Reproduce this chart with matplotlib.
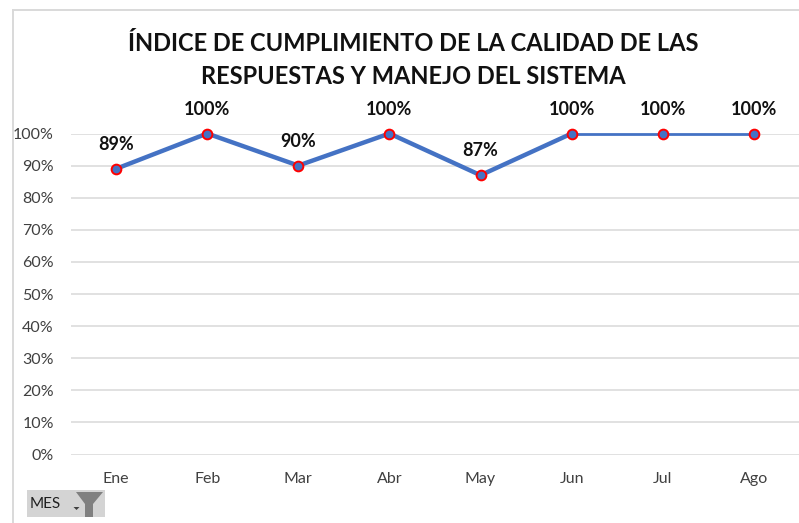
import matplotlib.pyplot as plt
from matplotlib.patches import Polygon, Rectangle

plt.rcParams['font.family'] = ['Lato', 'DejaVu Sans']

W, H = 799, 523

meses = ['Ene', 'Feb', 'Mar', 'Abr', 'May', 'Jun', 'Jul', 'Ago']
indice = [89, 100, 90, 100, 87, 100, 100, 100]
etiquetas = ['89%', '100%', '90%', '100%', '87%', '100%', '100%', '100%']
ticks_y = [0, 10, 20, 30, 40, 50, 60, 70, 80, 90, 100]
titulo = 'ÍNDICE DE CUMPLIMIENTO DE LA CALIDAD DE LAS\nRESPUESTAS Y MANEJO DEL SISTEMA'

fig = plt.figure(figsize=(W / 100, H / 100), dpi=100)
ax = fig.add_axes([70.5 / W, 1 - 454.5 / H, (799.5 - 70.5) / W, (454.5 - 133.5) / H])

ax.set_xlim(-0.5, 7.5)
ax.set_ylim(0, 100)
ax.set_yticks(ticks_y)
ax.set_yticklabels([f'{v}%' for v in ticks_y], fontsize=11.5, color='#404040')
ax.set_xticks(range(len(meses)))
ax.set_xticklabels(meses, fontsize=11.5, color='#404040')
ax.tick_params(length=0)
ax.tick_params(axis='y', pad=12)
ax.tick_params(axis='x', pad=12.5)
ax.grid(axis='y', color='#d9d9d9', lw=1.1)
ax.set_axisbelow(True)
for s in ax.spines.values():
    s.set_visible(False)

# thick up to Jun, thin afterwards
ax.plot(meses[:6], indice[:6], color='#4472c4', lw=3.2, clip_on=False, solid_capstyle='round')
ax.plot(meses[5:], indice[5:], color='#4472c4', lw=2, clip_on=False)
ax.plot(meses, indice, ls='none', marker='o', ms=7, mfc='#4472c4', mec='#ff0000', mew=1.4,
        clip_on=False, zorder=5)

for i, (v, t) in enumerate(zip(indice, etiquetas)):
    ax.annotate(t, (i, v), xytext=(0, 11.5), textcoords='offset points', ha='center', va='bottom',
                fontsize=13, fontweight='bold', color='#111111', annotation_clip=False)

fig.text(413.5 / W, 1 - 60 / H, titulo, ha='center', va='center', fontsize=17, fontweight='bold',
         color='#111111', linespacing=1.55)

# chart border
fig.add_artist(plt.Line2D([12.5 / W, 12.5 / W], [0, 1 - 10 / H], color='#d9d9d9', lw=1.4))
fig.add_artist(plt.Line2D([12.5 / W, 1], [1 - 10 / H, 1 - 10 / H], color='#d9d9d9', lw=1.4))

# filter button
fig.add_artist(Rectangle((27 / W, 1 - 517 / H), 78 / W, 27 / H, transform=fig.transFigure,
                         fc='#d4d4d4', ec='none'))
fig.text(30 / W, 1 - 504 / H, 'MES', ha='left', va='center', fontsize=11, color='#202020')
fig.add_artist(Polygon([(73.5 / W, 1 - 507 / H), (79.5 / W, 1 - 507 / H), (76.5 / W, 1 - 510 / H)],
                       transform=fig.transFigure, fc='#404040', ec='none'))
fig.add_artist(Polygon([(76 / W, 1 - 492 / H), (103 / W, 1 - 492 / H), (93 / W, 1 - 504 / H),
                        (93 / W, 1 - 517 / H), (85 / W, 1 - 517 / H), (85 / W, 1 - 504 / H)],
                       transform=fig.transFigure, fc='#808080', ec='none'))

fig.savefig('out.png', dpi=100)
